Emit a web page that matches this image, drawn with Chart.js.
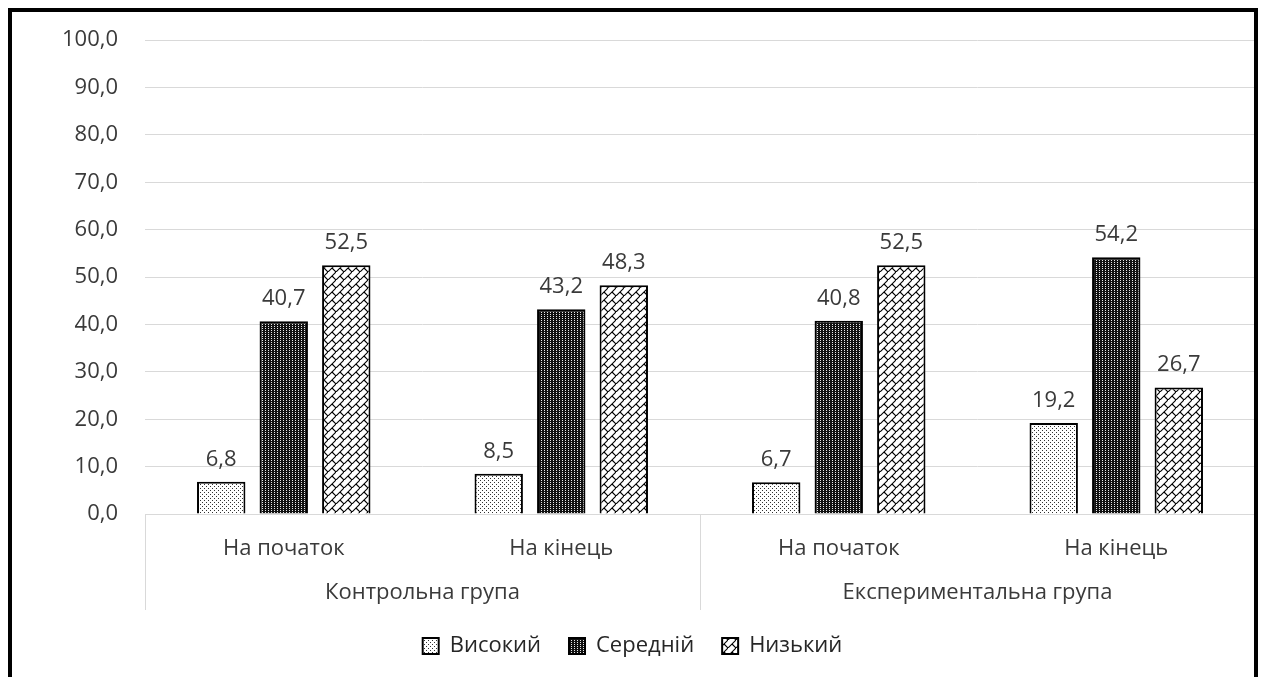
<!DOCTYPE html>
<html>
<head>
<meta charset="utf-8">
<script src="https://cdn.jsdelivr.net/npm/chart.js@4.4.1/dist/chart.umd.min.js"></script>
<style>
  html, body { margin: 0; padding: 0; background: #fff; }
  #wrap { position: relative; width: 1261px; height: 677px; overflow: hidden; background: #fff; }
  #frame { position: absolute; left: 8px; top: 8px; width: 1242px; height: 720px; border: 4px solid #000; pointer-events: none; }
  canvas { position: absolute; left: 0; top: 0; }
</style>
</head>
<body>
<div id="wrap">
  <canvas id="chart" width="1261" height="677"></canvas>
  <div id="frame"></div>
</div>
<script>
// Stages of the study and the two groups they belong to
const stages = ['На початок', 'На кінець', 'На початок', 'На кінець'];
const groups = ['Контрольна група', 'Експериментальна група'];

// Share of respondents (%) per level
const seriesNames = ['Високий', 'Середній', 'Низький'];
const high   = [6.8, 8.5, 6.7, 19.2];
const medium = [40.7, 43.2, 40.8, 54.2];
const low    = [52.5, 48.3, 52.5, 26.7];

// Value axis
const yMin = 0;
const yMax = 100;
const yStep = 10;

const FONT = "'Open Sans', sans-serif";
const TEXT = '#3a3a3a';
const GRID = '#d9d9d9';

const fmt = v => v.toFixed(1).replace('.', ',');

// Hatch fills
function tile(w, h, draw) {
  const c = document.createElement('canvas');
  c.width = w; c.height = h;
  const g = c.getContext('2d');
  draw(g, w, h);
  return g.createPattern(c, 'repeat');
}

const dotsLight = tile(4, 4, (g) => {
  g.fillStyle = '#fff'; g.fillRect(0, 0, 4, 4);
  g.fillStyle = '#333';
  g.fillRect(0, 0, 1, 1);
  g.fillRect(2, 2, 1, 1);
});

const dotsDark = tile(3, 2, (g) => {
  g.fillStyle = '#111'; g.fillRect(0, 0, 3, 2);
  g.fillStyle = '#e8e8e8';
  g.fillRect(1, 0, 1, 1);
});

const diagBrick = tile(8, 8, (g) => {
  g.fillStyle = '#fff'; g.fillRect(0, 0, 8, 8);
  g.strokeStyle = '#000';
  g.lineWidth = 1.1;
  g.beginPath();
  g.moveTo(9, -1); g.lineTo(-1, 9);
  g.moveTo(4, 4); g.lineTo(9, 9);
  g.stroke();
});

const fills = [dotsLight, dotsDark, diagBrick];
const values = [high, medium, low];

// Value labels above each bar
const barLabels = {
  id: 'barLabels',
  afterDatasetsDraw(chart) {
    const ctx = chart.ctx;
    ctx.save();
    ctx.font = `22px ${FONT}`;
    ctx.fillStyle = TEXT;
    ctx.textAlign = 'center';
    ctx.textBaseline = 'alphabetic';
    chart.data.datasets.forEach((ds, di) => {
      const meta = chart.getDatasetMeta(di);
      meta.data.forEach((bar, i) => {
        ctx.fillText(fmt(ds.data[i]), bar.x, bar.y - 16);
      });
    });
    ctx.restore();
  }
};

// Vertical separators between the two groups below the axis
const groupSeparators = {
  id: 'groupSeparators',
  afterDraw(chart) {
    const x = chart.scales.x;
    const ctx = chart.ctx;
    const mid = (x.getPixelForValue(1) + x.getPixelForValue(2)) / 2;
    const top = chart.chartArea.bottom;
    ctx.save();
    ctx.strokeStyle = GRID;
    ctx.lineWidth = 1;
    ctx.beginPath();
    [x.left, mid, x.right].forEach(px => {
      const p = Math.round(px) + 0.5;
      ctx.moveTo(p, top);
      ctx.lineTo(p, 610);
    });
    ctx.stroke();
    ctx.restore();
  }
};

new Chart(document.getElementById('chart'), {
  type: 'bar',
  data: {
    labels: stages,
    datasets: seriesNames.map((name, i) => ({
      label: name,
      data: values[i],
      backgroundColor: fills[i],
      borderColor: '#000',
      borderWidth: 2,
      categoryPercentage: 0.676,
      barPercentage: 0.774
    }))
  },
  options: {
    responsive: false,
    animation: false,
    devicePixelRatio: 1,
    layout: { padding: { left: 10, right: 6, top: 36, bottom: 10 } },
    plugins: {
      tooltip: { enabled: false },
      legend: {
        position: 'bottom',
        labels: {
          font: { family: FONT, size: 22 },
          color: '#262626',
          boxWidth: 16,
          boxHeight: 16,
          padding: 28
        }
      }
    },
    scales: {
      y: {
        min: yMin,
        max: yMax,
        ticks: {
          stepSize: yStep,
          padding: 27,
          color: TEXT,
          font: { family: FONT, size: 22 },
          callback: v => fmt(v)
        },
        grid: { color: GRID, lineWidth: 1, drawTicks: false },
        border: { display: false },
        afterFit(scale) { scale.width = 135; }
      },
      x: {
        position: 'bottom',
        ticks: { padding: 22, color: TEXT, font: { family: FONT, size: 22 } },
        grid: { display: false, drawTicks: false },
        border: { display: true, color: GRID, width: 1 },
        afterFit(scale) { scale.height = 48; }
      },
      x2: {
        type: 'category',
        position: 'bottom',
        labels: groups,
        offset: true,
        ticks: { padding: 18, color: TEXT, font: { family: FONT, size: 22 } },
        grid: { display: false, drawTicks: false },
        border: { display: false },
        afterFit(scale) { scale.height = 45; }
      }
    }
  },
  plugins: [barLabels, groupSeparators]
});
</script>
</body>
</html>
